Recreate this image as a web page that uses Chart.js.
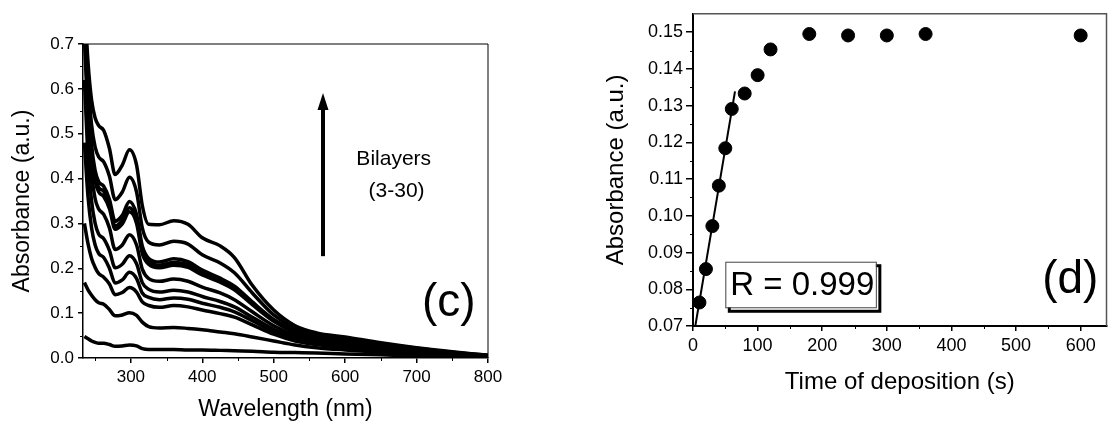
<!DOCTYPE html>
<html>
<head>
<meta charset="utf-8">
<script src="https://cdn.jsdelivr.net/npm/chart.js@4/dist/chart.umd.min.js"></script>
<style>
  html, body { margin: 0; padding: 0; background: #fff; overflow: hidden; width: 1111px; height: 425px; }
  #wrapC { position: absolute; left: 0; top: 0; width: 510px; height: 425px; }
  #wrapD { position: absolute; left: 600px; top: 0; width: 514px; height: 425px; }
</style>
</head>
<body>
<div id="wrapC"><canvas id="chartC" width="510" height="425"></canvas></div>
<div id="wrapD"><canvas id="chartD" width="514" height="425"></canvas></div>
<script>
// ---- (c) UV-vis spectra, one trace per bilayer count (lowest to highest) ----
const wavelengths = [235, 240, 245, 250, 255, 262, 270, 278, 288, 298, 308, 316, 325, 340, 360, 380, 400, 425, 445, 470, 500, 530, 560, 600, 650, 700, 750, 800];
const trace1  = [0.048, 0.043, 0.038, 0.035, 0.033, 0.033, 0.030, 0.026, 0.027, 0.029, 0.027, 0.021, 0.019, 0.019, 0.019, 0.018, 0.018, 0.017, 0.016, 0.015, 0.013, 0.012, 0.011, 0.009, 0.007, 0.005, 0.004, 0.003];
const trace2  = [0.168, 0.152, 0.140, 0.130, 0.123, 0.120, 0.108, 0.094, 0.096, 0.101, 0.095, 0.080, 0.070, 0.067, 0.068, 0.066, 0.063, 0.058, 0.054, 0.047, 0.038, 0.029, 0.023, 0.018, 0.013, 0.009, 0.006, 0.003];
const trace3  = [0.300, 0.255, 0.222, 0.202, 0.188, 0.180, 0.165, 0.141, 0.146, 0.157, 0.147, 0.125, 0.117, 0.113, 0.117, 0.114, 0.107, 0.099, 0.091, 0.074, 0.053, 0.038, 0.030, 0.023, 0.017, 0.012, 0.008, 0.004];
const trace4  = [0.480, 0.360, 0.290, 0.252, 0.233, 0.224, 0.200, 0.167, 0.174, 0.191, 0.177, 0.145, 0.135, 0.130, 0.134, 0.131, 0.122, 0.113, 0.103, 0.083, 0.059, 0.042, 0.033, 0.026, 0.019, 0.013, 0.008, 0.004];
const trace5  = [0.620, 0.450, 0.350, 0.300, 0.276, 0.266, 0.240, 0.201, 0.209, 0.228, 0.210, 0.168, 0.153, 0.147, 0.151, 0.147, 0.137, 0.126, 0.114, 0.091, 0.064, 0.046, 0.036, 0.028, 0.021, 0.014, 0.009, 0.004];
const trace6  = [0.720, 0.530, 0.415, 0.355, 0.332, 0.320, 0.290, 0.242, 0.252, 0.275, 0.252, 0.198, 0.177, 0.171, 0.176, 0.171, 0.158, 0.145, 0.130, 0.103, 0.072, 0.051, 0.040, 0.032, 0.023, 0.016, 0.010, 0.004];
const trace7  = [0.740, 0.560, 0.450, 0.395, 0.370, 0.360, 0.333, 0.287, 0.299, 0.326, 0.300, 0.233, 0.209, 0.201, 0.207, 0.202, 0.185, 0.169, 0.152, 0.119, 0.082, 0.057, 0.045, 0.036, 0.026, 0.018, 0.011, 0.005];
const trace8  = [0.750, 0.570, 0.460, 0.405, 0.380, 0.372, 0.342, 0.294, 0.307, 0.335, 0.308, 0.240, 0.215, 0.207, 0.213, 0.208, 0.190, 0.173, 0.156, 0.122, 0.084, 0.059, 0.046, 0.037, 0.027, 0.018, 0.011, 0.005];
const trace9  = [0.760, 0.585, 0.475, 0.418, 0.393, 0.383, 0.354, 0.305, 0.318, 0.349, 0.320, 0.250, 0.222, 0.214, 0.221, 0.215, 0.196, 0.178, 0.160, 0.125, 0.086, 0.060, 0.047, 0.038, 0.028, 0.019, 0.012, 0.005];
const trace10 = [0.780, 0.620, 0.520, 0.470, 0.448, 0.437, 0.405, 0.353, 0.370, 0.403, 0.370, 0.290, 0.258, 0.252, 0.260, 0.254, 0.230, 0.212, 0.190, 0.145, 0.096, 0.066, 0.052, 0.043, 0.032, 0.022, 0.013, 0.006];
const trace11 = [0.800, 0.660, 0.575, 0.535, 0.518, 0.507, 0.467, 0.409, 0.430, 0.464, 0.430, 0.340, 0.298, 0.297, 0.306, 0.298, 0.268, 0.250, 0.224, 0.162, 0.107, 0.072, 0.056, 0.047, 0.034, 0.023, 0.014, 0.006];
const spectra = [trace1, trace2, trace3, trace4, trace5, trace6, trace7, trace8, trace9, trace10, trace11];

const xTicksC = [300, 400, 500, 600, 700, 800];
const xMinorC = [250, 350, 450, 550, 650, 750];
const yTicksC = [0, 0.1, 0.2, 0.3, 0.4, 0.5, 0.6, 0.7];
const yMinorC = [0.05, 0.15, 0.25, 0.35, 0.45, 0.55, 0.65];

// ---- (d) absorbance versus deposition time ----
const depositionTime = [10, 20, 30, 40, 50, 60, 80, 100, 120, 180, 240, 300, 360, 600];
const absorbanceAtTime = [0.0764, 0.0855, 0.0972, 0.1082, 0.1184, 0.1291, 0.1333, 0.1383, 0.1453, 0.1495, 0.1491, 0.1491, 0.1495, 0.1491];
const fitSlope = 0.00104;
const fitIntercept = 0.0663;
const fitRange = [3.5, 65];
const fitR = '0.999';

const xTicksD = [0, 100, 200, 300, 400, 500, 600];
const xMinorD = [50, 150, 250, 350, 450, 550];
const yTicksD = [0.07, 0.08, 0.09, 0.10, 0.11, 0.12, 0.13, 0.14, 0.15];
const yMinorD = [0.075, 0.085, 0.095, 0.105, 0.115, 0.125, 0.135, 0.145];

const FONT = "'Liberation Sans', Arial, Helvetica, sans-serif";
Chart.defaults.font.family = FONT;
Chart.defaults.color = '#000';

// Frame (top/right border) plus short outward minor ticks
function framePlugin(id, cfg) {
  return {
    id: id,
    afterDraw(chart) {
      const { ctx, chartArea: a, scales } = chart;
      ctx.save();
      ctx.strokeStyle = cfg.frameColor;
      ctx.lineWidth = cfg.frameWidth;
      ctx.beginPath();
      ctx.moveTo(a.left, a.top);
      ctx.lineTo(a.right, a.top);
      if (cfg.rightBorder) ctx.lineTo(a.right, a.bottom);
      ctx.stroke();
      ctx.strokeStyle = '#000';
      ctx.lineWidth = cfg.minorWidth;
      cfg.xMinor.forEach(v => {
        const px = Math.round(scales.x.getPixelForValue(v)) + 0.5;
        ctx.beginPath();
        ctx.moveTo(px, a.bottom);
        ctx.lineTo(px, a.bottom + cfg.minorLen);
        ctx.stroke();
      });
      cfg.yMinor.forEach(v => {
        const py = Math.round(scales.y.getPixelForValue(v)) + 0.5;
        ctx.beginPath();
        ctx.moveTo(a.left, py);
        ctx.lineTo(a.left - cfg.minorLen, py);
        ctx.stroke();
      });
      ctx.restore();
    }
  };
}

// Arrow and captions in panel (c)
const annotateC = {
  id: 'annotateC',
  afterDraw(chart) {
    const { ctx, scales: { x, y } } = chart;
    ctx.save();
    const ax = x.getPixelForValue(569);
    const yBase = y.getPixelForValue(0.227);
    const yTip = y.getPixelForValue(0.591);
    ctx.strokeStyle = '#000';
    ctx.fillStyle = '#000';
    ctx.lineWidth = 4;
    ctx.beginPath();
    ctx.moveTo(ax, yBase);
    ctx.lineTo(ax, yTip + 14);
    ctx.stroke();
    ctx.beginPath();
    ctx.moveTo(ax, yTip);
    ctx.lineTo(ax - 5.5, yTip + 17);
    ctx.lineTo(ax + 5.5, yTip + 17);
    ctx.closePath();
    ctx.fill();

    ctx.textAlign = 'center';
    ctx.textBaseline = 'middle';
    ctx.font = '21px ' + FONT;
    ctx.fillText('Bilayers', x.getPixelForValue(668), y.getPixelForValue(0.443));
    ctx.fillText('(3-30)', x.getPixelForValue(672), y.getPixelForValue(0.372));
    ctx.font = '46px ' + FONT;
    ctx.fillText('(c)', x.getPixelForValue(745), y.getPixelForValue(0.121));
    ctx.restore();
  }
};

// Correlation box and panel letter in (d)
const annotateD = {
  id: 'annotateD',
  afterDraw(chart) {
    const { ctx, scales: { x, y } } = chart;
    ctx.save();
    const l = x.getPixelForValue(50), r = x.getPixelForValue(283);
    const t = y.getPixelForValue(0.0875), b = y.getPixelForValue(0.0751);
    // drop shadow
    ctx.strokeStyle = '#000';
    ctx.lineWidth = 3;
    ctx.strokeRect(l + 4, t + 4, r - l, b - t);
    ctx.fillStyle = '#fff';
    ctx.fillRect(l, t, r - l, b - t);
    ctx.strokeStyle = '#444';
    ctx.lineWidth = 1;
    ctx.strokeRect(l + 0.5, t + 0.5, r - l, b - t);
    ctx.fillStyle = '#000';
    ctx.textAlign = 'left';
    ctx.textBaseline = 'middle';
    ctx.font = '33px ' + FONT;
    ctx.fillText('R = ' + fitR, l + 5, (t + b) / 2 + 1);
    ctx.textAlign = 'center';
    ctx.font = '46px ' + FONT;
    ctx.fillText('(d)', x.getPixelForValue(584), y.getPixelForValue(0.0824));
    ctx.restore();
  }
};

function setTicks(values) {
  return scale => { scale.ticks = values.map(v => ({ value: v })); };
}

// ---- chart (c) ----
new Chart(document.getElementById('chartC'), {
  type: 'line',
  data: {
    datasets: spectra.map(tr => ({
      data: wavelengths.map((w, i) => ({ x: w, y: tr[i] })),
      borderColor: '#000',
      borderWidth: 3.5,
      pointRadius: 0,
      fill: false,
      cubicInterpolationMode: 'monotone'
    }))
  },
  options: {
    responsive: false,
    animation: false,
    devicePixelRatio: 1,
    layout: { padding: { top: 44, right: 22, left: 0, bottom: 0 } },
    plugins: { legend: { display: false }, tooltip: { enabled: false } },
    scales: {
      x: {
        type: 'linear', min: 233, max: 800,
        afterBuildTicks: setTicks(xTicksC),
        afterFit: s => { s.height = 67; },
        grid: { display: true, drawOnChartArea: false, drawTicks: true, tickLength: 5, color: '#000', lineWidth: 1.5 },
        border: { display: true, color: '#000', width: 1.5 },
        ticks: { color: '#000', font: { size: 17 }, padding: 4, maxRotation: 0, callback: v => String(v) },
        title: { display: true, text: 'Wavelength (nm)', color: '#000', font: { size: 23 }, padding: { top: 0, bottom: 2 } }
      },
      y: {
        type: 'linear', min: 0, max: 0.7,
        afterBuildTicks: setTicks(yTicksC),
        afterFit: s => { s.width = 83; },
        grid: { display: true, drawOnChartArea: false, drawTicks: true, tickLength: 5, color: '#000', lineWidth: 1.5 },
        border: { display: true, color: '#000', width: 1.5 },
        ticks: { color: '#000', font: { size: 17 }, padding: 4, callback: v => Number(v).toFixed(1) },
        title: { display: true, text: 'Absorbance (a.u.)', color: '#000', font: { size: 23 }, padding: { top: 9, bottom: 0 } }
      }
    }
  },
  plugins: [framePlugin('frameC', { frameColor: '#000', frameWidth: 1, rightBorder: true, xMinor: xMinorC, yMinor: yMinorC, minorLen: 3, minorWidth: 1 }), annotateC]
});

// ---- chart (d) ----
new Chart(document.getElementById('chartD'), {
  type: 'scatter',
  data: {
    datasets: [
      {
        data: depositionTime.map((t, i) => ({ x: t, y: absorbanceAtTime[i] })),
        backgroundColor: '#000',
        borderColor: '#000',
        pointRadius: 6.5,
        pointHoverRadius: 6.5,
        showLine: false
      },
      {
        data: fitRange.map(t => ({ x: t, y: fitIntercept + fitSlope * t })),
        borderColor: '#000',
        borderWidth: 2,
        pointRadius: 0,
        showLine: true,
        fill: false
      }
    ]
  },
  options: {
    responsive: false,
    animation: false,
    devicePixelRatio: 1,
    layout: { padding: { top: 10, right: 0, left: 0, bottom: 0 } },
    plugins: { legend: { display: false }, tooltip: { enabled: false } },
    scales: {
      x: {
        type: 'linear', min: 0, max: 640,
        afterBuildTicks: setTicks(xTicksD),
        afterFit: s => { s.height = 99; },
        grid: { display: true, drawOnChartArea: false, drawTicks: true, tickLength: 5, color: '#000', lineWidth: 1.5 },
        border: { display: true, color: '#000', width: 2 },
        ticks: { color: '#000', font: { size: 18 }, padding: 4, maxRotation: 0, callback: v => String(v) },
        title: { display: true, text: 'Time of deposition (s)', color: '#000', font: { size: 24 }, padding: { top: 0, bottom: 28 } }
      },
      y: {
        type: 'linear', min: 0.07, max: 0.155,
        afterBuildTicks: setTicks(yTicksD),
        afterFit: s => { s.width = 93; },
        grid: { display: true, drawOnChartArea: false, drawTicks: true, tickLength: 7, color: '#000', lineWidth: 1.5 },
        border: { display: true, color: '#000', width: 2 },
        ticks: { color: '#000', font: { size: 18 }, padding: 3, callback: v => Number(v).toFixed(2) },
        title: { display: true, text: 'Absorbance (a.u.)', color: '#000', font: { size: 24 }, padding: { top: 2, bottom: 0 } }
      }
    }
  },
  plugins: [framePlugin('frameD', { frameColor: '#555', frameWidth: 1.5, rightBorder: true, xMinor: xMinorD, yMinor: yMinorD, minorLen: 3, minorWidth: 1 }), annotateD]
});
</script>
</body>
</html>
